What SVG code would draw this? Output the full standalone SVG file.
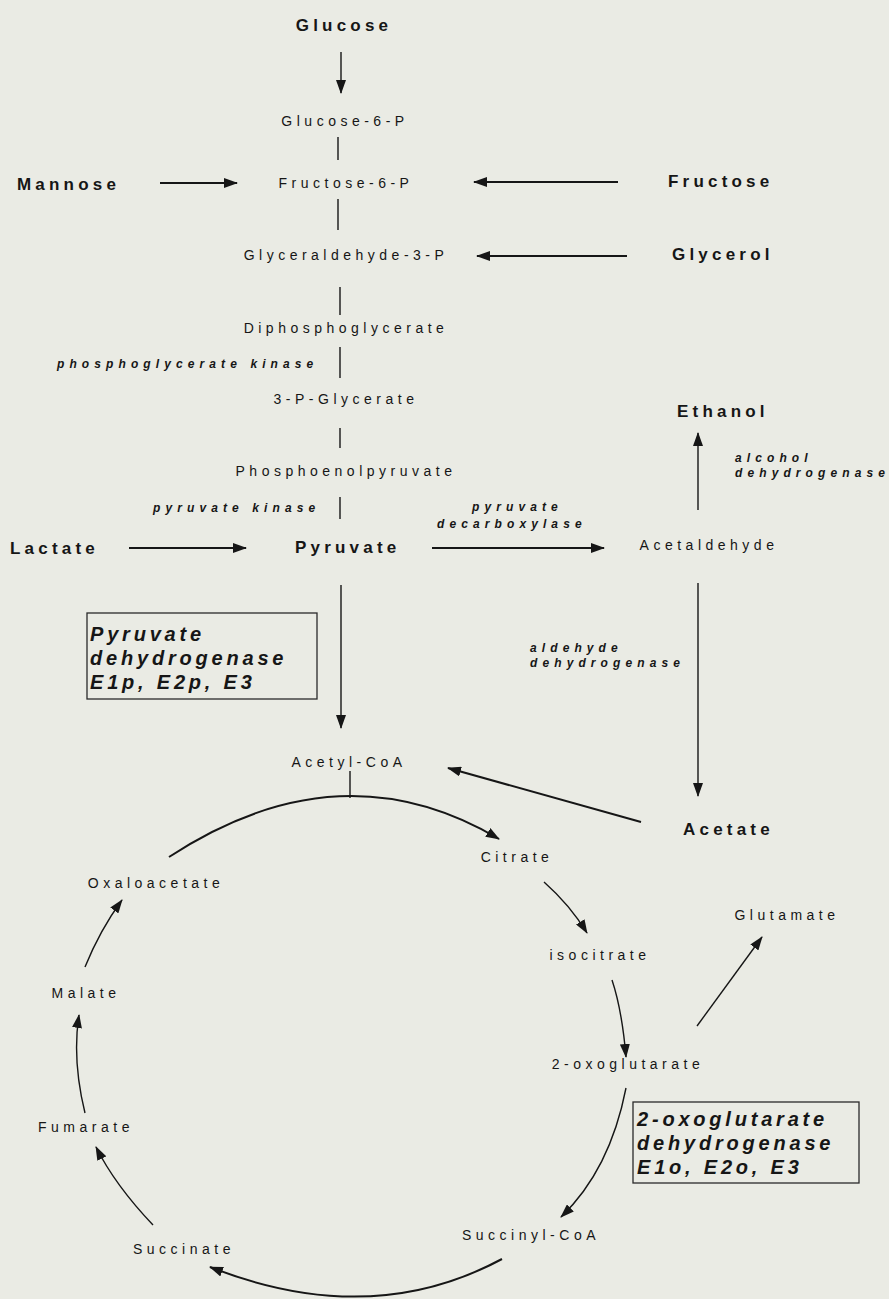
<svg xmlns="http://www.w3.org/2000/svg" width="889" height="1299" viewBox="0 0 889 1299">
<style>
text{font-family:"Liberation Sans",Arial,sans-serif;fill:#161616}
.n{font-size:14px;letter-spacing:4.5px;text-anchor:middle}
.b{font-size:17px;font-weight:bold;letter-spacing:4.2px}
.bc{text-anchor:middle}
.e{font-size:12px;font-weight:bold;font-style:italic;letter-spacing:5.1px}
.x{font-size:20px;font-weight:bold;font-style:italic;letter-spacing:3.8px}
.l{fill:none;stroke:#161616;stroke-width:1.4}
.t{stroke-width:2}
.box{fill:none;stroke:#2a2a2a;stroke-width:1.3}
</style>
<defs>
<marker id="ah" markerUnits="userSpaceOnUse" markerWidth="14" markerHeight="10" refX="13" refY="5" orient="auto"><path d="M0,0 L14,5 L0,10 z" fill="#161616"/></marker>
</defs>
<rect width="889" height="1299" fill="#eaebe4"/>
<g id="connectors">
<line class="l" x1="341" y1="52" x2="341" y2="93" marker-end="url(#ah)"/>
<line class="l t" x1="160" y1="183" x2="237" y2="183" marker-end="url(#ah)"/>
<line class="l t" x1="618" y1="182" x2="474" y2="182" marker-end="url(#ah)"/>
<line class="l t" x1="627" y1="256" x2="477" y2="256" marker-end="url(#ah)"/>
<line class="l" x1="338" y1="137" x2="338" y2="160"/>
<line class="l" x1="338" y1="199" x2="338" y2="230"/>
<line class="l" x1="340" y1="287" x2="340" y2="315"/>
<line class="l" x1="340" y1="347" x2="340" y2="378"/>
<line class="l" x1="340" y1="428" x2="340" y2="448"/>
<line class="l" x1="340" y1="497" x2="340" y2="519"/>
<line class="l t" x1="129" y1="548" x2="246" y2="548" marker-end="url(#ah)"/>
<line class="l t" x1="432" y1="548" x2="604" y2="548" marker-end="url(#ah)"/>
<line class="l" x1="698" y1="510" x2="698" y2="433" marker-end="url(#ah)"/>
<line class="l" x1="341" y1="585" x2="341" y2="728" marker-end="url(#ah)"/>
<line class="l" x1="698" y1="583" x2="698" y2="796" marker-end="url(#ah)"/>
<line class="l t" x1="641" y1="822" x2="448" y2="768" marker-end="url(#ah)"/>
<line class="l" x1="350" y1="771" x2="350" y2="798"/>
<path class="l t" d="M169,857 Q340,745 499,839" marker-end="url(#ah)"/>
<path class="l" d="M544,882 Q570,905 587,933" marker-end="url(#ah)"/>
<path class="l" d="M612,980 Q622,1010 626,1057" marker-end="url(#ah)"/>
<line class="l" x1="697" y1="1026" x2="762" y2="937" marker-end="url(#ah)"/>
<path class="l" d="M626,1088 Q610,1170 561,1217" marker-end="url(#ah)"/>
<path class="l t" d="M502,1259 Q370,1330 210,1267" marker-end="url(#ah)"/>
<path class="l" d="M153,1225 Q115,1185 96,1147" marker-end="url(#ah)"/>
<path class="l" d="M85,1113 Q72,1060 79,1015" marker-end="url(#ah)"/>
<path class="l" d="M85,967 Q100,930 122,900" marker-end="url(#ah)"/>
</g>
<g id="glucose"><text class="b bc" x="344" y="31">Glucose</text></g>
<g id="glucose6p"><text class="n" x="345" y="126">Glucose-6-P</text></g>
<g id="mannose"><text class="b" x="17" y="190">Mannose</text></g>
<g id="fructose6p"><text class="n" x="346" y="188">Fructose-6-P</text></g>
<g id="fructose"><text class="b" x="668" y="187">Fructose</text></g>
<g id="glyceraldehyde3p"><text class="n" x="346" y="260">Glyceraldehyde-3-P</text></g>
<g id="glycerol"><text class="b" x="672" y="260">Glycerol</text></g>
<g id="diphosphoglycerate"><text class="n" x="346" y="333">Diphosphoglycerate</text></g>
<g id="pgk"><text class="e" x="57" y="368">phosphoglycerate kinase</text></g>
<g id="pglycerate"><text class="n" x="346" y="404">3-P-Glycerate</text></g>
<g id="ethanol"><text class="b" x="677" y="417">Ethanol</text></g>
<g id="adh"><text class="e" x="735" y="462">alcohol</text><text class="e" x="735" y="477">dehydrogenase</text></g>
<g id="pep"><text class="n" x="346" y="476">Phosphoenolpyruvate</text></g>
<g id="pk"><text class="e" x="153" y="512">pyruvate kinase</text></g>
<g id="pdc"><text class="e" x="472" y="511">pyruvate</text><text class="e" x="437" y="528">decarboxylase</text></g>
<g id="lactate"><text class="b" x="10" y="554">Lactate</text></g>
<g id="pyruvate"><text class="b" x="295" y="553">Pyruvate</text></g>
<g id="acetaldehyde"><text class="n" x="709" y="550">Acetaldehyde</text></g>
<g id="pdh"><rect class="box" x="87" y="613" width="230" height="86"/><text class="x" x="90" y="641">Pyruvate</text><text class="x" x="90" y="665">dehydrogenase</text><text class="x" x="90" y="689">E1p, E2p, E3</text></g>
<g id="aldh"><text class="e" x="530" y="652">aldehyde</text><text class="e" x="530" y="667">dehydrogenase</text></g>
<g id="acetylcoa"><text class="n" x="349" y="767">Acetyl-CoA</text></g>
<g id="acetate"><text class="b" x="683" y="835">Acetate</text></g>
<g id="citrate"><text class="n" x="517" y="862">Citrate</text></g>
<g id="oxaloacetate"><text class="n" x="156" y="888">Oxaloacetate</text></g>
<g id="glutamate"><text class="n" x="787" y="920">Glutamate</text></g>
<g id="isocitrate"><text class="n" x="600" y="960">isocitrate</text></g>
<g id="malate"><text class="n" x="86" y="998">Malate</text></g>
<g id="oxoglutarate"><text class="n" x="628" y="1069">2-oxoglutarate</text></g>
<g id="ogdh"><rect class="box" x="633" y="1102" width="226" height="81"/><text class="x" x="637" y="1126">2-oxoglutarate</text><text class="x" x="637" y="1150">dehydrogenase</text><text class="x" x="637" y="1174">E1o, E2o, E3</text></g>
<g id="fumarate"><text class="n" x="86" y="1132">Fumarate</text></g>
<g id="succinylcoa"><text class="n" x="531" y="1240">Succinyl-CoA</text></g>
<g id="succinate"><text class="n" x="184" y="1254">Succinate</text></g>
</svg>
